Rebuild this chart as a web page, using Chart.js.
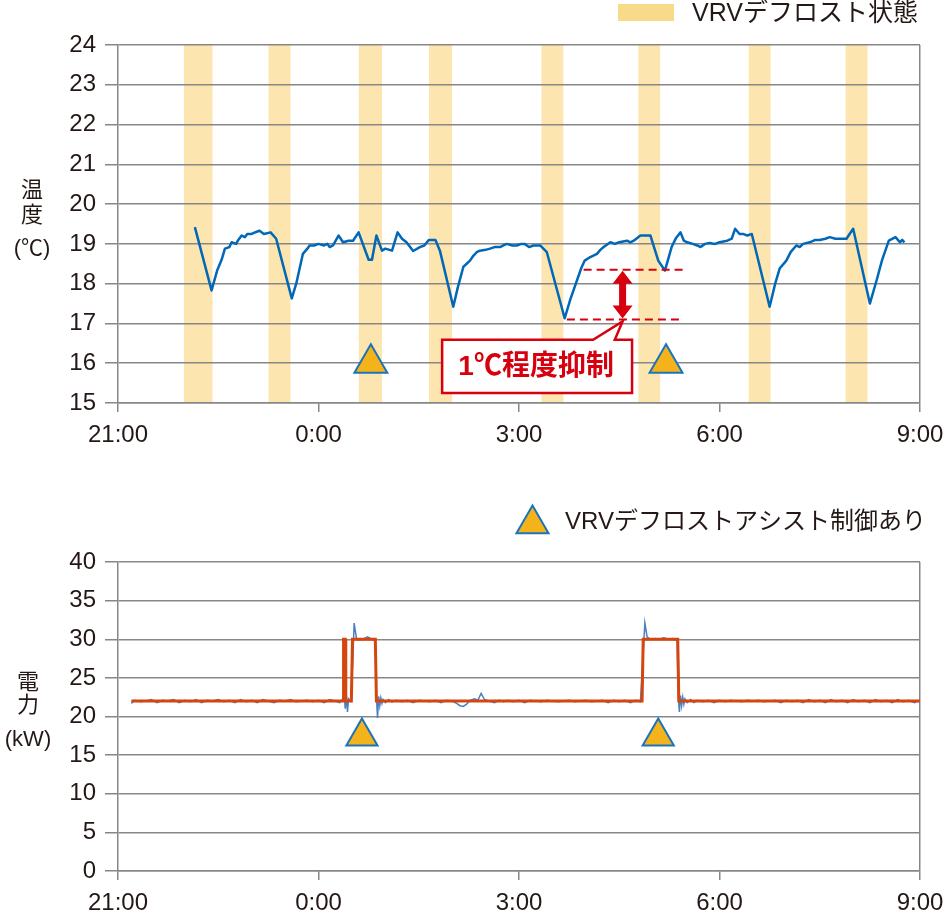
<!DOCTYPE html>
<html lang="ja">
<head>
<meta charset="utf-8">
<title>VRVデフロストアシスト制御</title>
<script src="https://cdn.jsdelivr.net/npm/chart.js@4.4.1/dist/chart.umd.min.js"></script>
<style>
  html, body { margin: 0; padding: 0; background: #fff; }
  #wrap { position: relative; width: 946px; height: 914px; }
  #tempChart { position: absolute; left: 0; top: 0; }
  #powerChart { position: absolute; left: 0; top: 460px; }
</style>
</head>
<body>
<div id="wrap">
  <canvas id="tempChart" width="946" height="460"></canvas>
  <canvas id="powerChart" width="946" height="454"></canvas>
</div>
<script>
// time is minutes after 21:00
const timeTicks = [0, 180, 360, 540, 720];
const timeLabels = ['21:00', '0:00', '3:00', '6:00', '9:00'];

// VRV defrost periods (start / end, minutes)
const defrostStart = [59, 135, 216, 279, 380, 467, 566, 653];
const defrostEnd = [85, 155, 237, 300, 400, 487, 586, 673];

// room temperature [minute, ℃]
const tempReadings = [
  [69, 19.42], [84, 17.83], [89, 18.33], [93, 18.6], [96, 18.88], [100, 18.92], [102, 19.04],
  [106, 19.0], [108, 19.1], [111, 19.21], [114, 19.17], [116, 19.25], [120, 19.25], [124, 19.3],
  [127, 19.33], [131, 19.25], [137, 19.29], [142, 19.13], [156, 17.63], [160, 18.0],
  [166, 18.75], [170, 18.88], [172, 18.96], [176, 18.96], [180, 19.0], [185, 18.96],
  [188, 19.0], [190, 18.92], [193, 18.96], [198, 19.21], [202, 19.04], [207, 19.08],
  [211, 19.08], [216, 19.29], [225, 18.6], [228, 18.6], [232, 19.21], [237, 18.83],
  [240, 18.88], [246, 18.83], [251, 19.29], [255, 19.13], [259, 19.04], [265, 18.82],
  [271, 18.92], [275, 18.96], [279, 19.1], [285, 19.1], [289, 18.83], [301, 17.42],
  [305, 17.9], [310, 18.42], [313, 18.5], [316, 18.58], [319, 18.7], [322, 18.79],
  [325, 18.83], [330, 18.85], [334, 18.88], [338, 18.92], [343, 18.92], [346, 18.96],
  [349, 19.0], [354, 18.96], [358, 18.96], [362, 19.0], [365, 19.0], [369, 18.92],
  [373, 18.96], [379, 18.96], [385, 18.79], [401, 17.13], [406, 17.6], [412, 18.08],
  [416, 18.4], [419, 18.58], [424, 18.67], [430, 18.75], [433, 18.85], [436, 18.92],
  [442, 19.04], [446, 19.0], [450, 19.04], [457, 19.08], [460, 19.04], [463, 19.08],
  [469, 19.21], [478, 19.21], [485, 18.58], [491, 18.33], [497, 18.92], [501, 19.15],
  [505, 19.29], [508, 19.08], [511, 19.04], [516, 19.0], [520, 18.96], [523, 18.92],
  [527, 19.0], [531, 19.02], [536, 19.0], [540, 19.04], [547, 19.08], [551, 19.13],
  [554, 19.38], [558, 19.25], [561, 19.25], [565, 19.21], [569, 19.25], [585, 17.42],
  [590, 18.0], [594, 18.38], [600, 18.58], [604, 18.8], [609, 18.96], [612, 18.92],
  [615, 19.0], [621, 19.04], [626, 19.1], [630, 19.1], [635, 19.13], [639, 19.17],
  [644, 19.13], [648, 19.13], [654, 19.13], [660, 19.38], [675, 17.5], [681, 18.08],
  [686, 18.6], [692, 19.08], [698, 19.17], [702, 19.04], [704, 19.1], [706, 19.04]
];

// defrost assist markers
const assistTemp = [[227, 16.0], [492, 16.0]];
const assistPower = [[219, 17.4], [485, 17.4]];

// measured power [minute, kW]
const powerReadings = [
  [12, 21.7], [15, 22.1], [20, 21.9], [25, 22.0], [30, 22.2], [35, 21.8], [40, 22.1],
  [45, 22.0], [50, 22.2], [55, 21.8], [60, 22.1], [65, 21.9], [70, 22.2], [75, 21.8],
  [80, 22.1], [85, 22.0], [90, 22.2], [95, 21.9], [100, 22.1], [105, 21.8], [110, 22.2],
  [115, 21.9], [120, 22.1], [125, 21.8], [130, 22.2], [135, 22.0], [140, 21.8], [145, 22.1],
  [150, 22.0], [155, 22.2], [160, 21.9], [165, 22.0], [170, 22.1], [175, 21.9], [180, 22.1],
  [185, 21.8], [190, 22.2], [195, 22.0], [199, 21.8], [201, 22.1],
  [202, 22.4], [203, 23.0], [204, 21.0], [205, 22.8], [206, 20.6], [207, 22.3], [209, 22.0],
  [211, 28.0], [212, 32.1], [214, 30.2], [216, 29.9], [220, 30.0], [224, 30.3], [228, 30.0],
  [231, 29.8], [232, 22.5], [233, 19.8], [234, 22.6], [235, 21.4], [236, 22.4], [237, 21.7],
  [238, 22.2], [240, 21.8], [243, 22.2], [246, 21.9],
  [250, 22.1], [255, 21.9], [260, 22.1], [265, 21.8], [270, 22.1], [275, 22.0], [280, 21.9],
  [285, 22.1], [290, 21.8], [295, 22.1], [300, 22.0], [304, 21.7], [307, 21.4], [310, 21.3],
  [313, 21.6], [316, 22.1], [320, 22.3], [323, 22.1], [326, 23.0], [329, 22.2], [333, 22.0],
  [338, 21.8], [342, 22.1], [346, 21.9], [350, 22.1], [355, 21.9], [360, 22.1], [365, 21.8],
  [370, 22.1], [375, 22.0], [380, 21.9], [385, 22.1], [390, 22.0], [395, 21.9], [400, 22.0],
  [405, 22.1], [410, 21.9], [415, 22.0], [420, 22.1], [425, 21.9], [430, 22.0], [435, 22.1],
  [440, 21.8], [445, 22.1], [450, 21.9], [455, 22.1], [460, 21.8], [465, 22.1], [469, 21.9],
  [471, 27.0], [473, 32.1], [475, 30.3], [478, 30.0], [482, 30.1], [486, 30.0], [490, 30.2],
  [494, 30.0], [498, 30.1], [502, 29.8], [503, 22.5], [504, 20.6], [505, 22.7], [506, 21.4],
  [507, 22.5], [508, 21.6], [509, 22.3], [511, 21.8], [514, 22.2], [517, 21.8],
  [520, 22.1], [525, 21.9], [530, 22.1], [535, 21.8], [540, 22.1], [545, 21.9], [550, 22.1],
  [555, 22.0], [560, 21.9], [565, 22.1], [570, 22.0], [575, 22.1], [580, 21.9], [585, 22.0],
  [590, 22.1], [595, 21.8], [600, 22.1], [605, 21.9], [610, 22.1], [615, 21.8], [620, 22.2],
  [625, 21.9], [630, 22.1], [635, 21.8], [640, 22.2], [645, 21.9], [650, 22.1], [655, 21.8],
  [660, 22.2], [665, 21.9], [670, 22.1], [675, 21.8], [680, 22.2], [685, 21.9], [690, 22.1],
  [695, 21.8], [700, 22.2], [705, 21.9], [710, 22.1], [715, 21.8], [720, 22.1]
];

// stepped power level [minute, kW]
const powerStep = [
  [12, 22], [202, 22], [202.5, 30], [204, 30], [204.5, 22], [209.5, 22], [210.5, 30],
  [231, 30], [232, 22], [470.5, 22], [471.5, 30], [502.5, 30], [503.5, 22], [720, 22]
];

const gridColor = '#878787';
const textColor = '#231815';
const bandColor = '#fce5ae';
const triFill = '#f5b31b';
const triEdge = '#1a74bd';
const noteRed = '#d7000f';
const jpFont = '"Liberation Sans", "Noto Sans CJK JP", sans-serif';

Chart.defaults.font.family = jpFont;
Chart.defaults.font.size = 24;
Chart.defaults.color = textColor;

const xy = rows => rows.map(([x, y]) => ({ x, y }));

let timeAxis = (height) => ({
  type: 'linear', min: 0, max: 720,
  afterBuildTicks: s => { s.ticks = timeTicks.map(v => ({ value: v })); },
  afterFit: s => { s.height = height; s.paddingLeft = 0; s.paddingRight = 0; },
  ticks: { callback: v => timeLabels[timeTicks.indexOf(v)], padding: 9, maxRotation: 0, autoSkip: false },
  grid: {
    color: c => (c.tick && c.tick.value === 720) ? gridColor : 'rgba(0,0,0,0)',
    tickColor: gridColor, tickLength: 9, lineWidth: 1.5
  },
  border: { color: gridColor, width: 1.5 }
});

let valueAxis = (min, max, step) => ({
  min, max,
  afterFit: s => { s.width = 118; },
  ticks: { stepSize: step, padding: 9 },
  grid: { color: gridColor, lineWidth: 1.5, tickLength: 13 },
  border: { color: gridColor, width: 1.5 }
});

let triangle = (ctx, x, y, r) => {
  ctx.beginPath();
  ctx.moveTo(x, y - r);
  ctx.lineTo(x + r * 0.866, y + r / 2);
  ctx.lineTo(x - r * 0.866, y + r / 2);
  ctx.closePath();
  ctx.fill();
  ctx.stroke();
};

// stacked axis title + legend drawn on top
let decor = (cfg) => ({
  id: 'decor',
  afterDraw(chart) {
    const ctx = chart.ctx;
    ctx.save();
    ctx.fillStyle = textColor;
    ctx.textAlign = 'center';
    ctx.textBaseline = 'middle';
    ctx.font = '22px ' + jpFont;
    cfg.title.forEach(([t, x, y]) => ctx.fillText(t, x, y));
    if (cfg.box) {
      ctx.fillStyle = '#f8da8b';
      ctx.fillRect(cfg.box[0], cfg.box[1], cfg.box[2], cfg.box[3]);
    }
    if (cfg.tri) {
      ctx.fillStyle = triFill;
      ctx.strokeStyle = triEdge;
      ctx.lineWidth = 2;
      triangle(ctx, cfg.tri[0], cfg.tri[1], cfg.tri[2]);
    }
    ctx.fillStyle = textColor;
    ctx.textAlign = 'left';
    ctx.font = cfg.label[3] + 'px ' + jpFont;
    ctx.fillText(cfg.label[0], cfg.label[1], cfg.label[2]);
    ctx.restore();
  }
});

const tempNotes = {
  id: 'tempNotes',
  afterDatasetsDraw(chart) {
    const { ctx, scales: { x, y } } = chart;
    const px = m => x.getPixelForValue(m);
    const py = v => y.getPixelForValue(v);
    const hi = py(18.35), lo = py(17.1), ax = px(453);
    ctx.save();
    ctx.strokeStyle = noteRed;
    ctx.fillStyle = noteRed;
    ctx.lineWidth = 2;
    ctx.setLineDash([8, 5]);
    ctx.beginPath();
    ctx.moveTo(px(418), hi); ctx.lineTo(px(507), hi);
    ctx.moveTo(px(403), lo); ctx.lineTo(px(507), lo);
    ctx.stroke();
    ctx.setLineDash([]);
    // double-headed arrow
    ctx.beginPath();
    ctx.moveTo(ax, hi + 1);
    ctx.lineTo(ax + 10, hi + 14); ctx.lineTo(ax + 3.5, hi + 14);
    ctx.lineTo(ax + 3.5, lo - 14); ctx.lineTo(ax + 10, lo - 14);
    ctx.lineTo(ax, lo - 1);
    ctx.lineTo(ax - 10, lo - 14); ctx.lineTo(ax - 3.5, lo - 14);
    ctx.lineTo(ax - 3.5, hi + 14); ctx.lineTo(ax - 10, hi + 14);
    ctx.closePath();
    ctx.fill();
    // callout box
    const l = px(291), r = px(461.5), t = py(16.59), b = py(15.25);
    ctx.beginPath();
    ctx.moveTo(l, t); ctx.lineTo(px(426.5), t);
    ctx.lineTo(ax, lo + 2);
    ctx.lineTo(px(446), t); ctx.lineTo(r, t);
    ctx.lineTo(r, b); ctx.lineTo(l, b);
    ctx.closePath();
    ctx.fillStyle = '#fff';
    ctx.fill();
    ctx.lineWidth = 2.5;
    ctx.stroke();
    ctx.fillStyle = noteRed;
    ctx.font = 'bold 28px ' + jpFont;
    ctx.textAlign = 'center';
    ctx.textBaseline = 'middle';
    ctx.fillText('1℃程度抑制', (l + r) / 2 - 1, (t + b) / 2 + 1);
    ctx.restore();
  }
};

const bands = defrostStart.flatMap((s, i) => [
  { x: s, y: 24 }, { x: defrostEnd[i], y: 24 }, { x: defrostEnd[i], y: null }
]);

let markerSet = (rows, r) => ({
  label: 'VRVデフロストアシスト制御あり',
  data: xy(rows), showLine: false,
  pointStyle: 'triangle', pointRadius: r, pointHoverRadius: r,
  pointBackgroundColor: triFill, pointBorderColor: triEdge, pointBorderWidth: 2,
  order: 0
});

const baseOptions = (padding, xHeight, yAxis) => ({
  responsive: false,
  animation: false,
  events: [],
  layout: { padding },
  scales: { x: timeAxis(xHeight), y: yAxis },
  plugins: { legend: { display: false }, tooltip: { enabled: false }, filler: { drawTime: 'beforeDraw' } }
});

new Chart(document.getElementById('tempChart'), {
  type: 'line',
  data: {
    datasets: [
      markerSet(assistTemp, 19),
      { label: '温度', data: xy(tempReadings), borderColor: '#0068b7', borderWidth: 2.5,
        borderJoinStyle: 'round', pointRadius: 0, tension: 0, order: 1 },
      { label: 'VRVデフロスト状態', data: bands, borderColor: 'rgba(0,0,0,0)', borderWidth: 0,
        backgroundColor: bandColor, fill: 'start', pointRadius: 0, order: 2 }
    ]
  },
  options: baseOptions({ left: 0, right: 26, top: 45, bottom: 7 }, 50, valueAxis(15, 24, 1)),
  plugins: [
    decor({ title: [['温', 32, 191], ['度', 32, 216], ['(℃)', 32, 249]],
            box: [618, 4, 56, 17], label: ['VRVデフロスト状態', 692, 14, 25] }),
    tempNotes
  ]
});

new Chart(document.getElementById('powerChart'), {
  type: 'line',
  data: {
    datasets: [
      markerSet(assistPower, 18),
      { label: '電力(制御)', data: xy(powerStep), borderColor: '#d5460e', borderWidth: 3,
        pointRadius: 0, tension: 0, order: 1 },
      { label: '電力', data: xy(powerReadings), borderColor: '#4a7fc1', borderWidth: 1.5,
        pointRadius: 0, tension: 0, order: 2 }
    ]
  },
  options: baseOptions({ left: 0, right: 26, top: 102, bottom: 0 }, 43, valueAxis(0, 40, 5)),
  plugins: [
    decor({ title: [['電', 28, 223], ['力', 28, 246], ['(kW)', 28, 280]],
            tri: [532.5, 64, 18.5], label: ['VRVデフロストアシスト制御あり', 565, 62, 24] })
  ]
});
</script>
</body>
</html>
